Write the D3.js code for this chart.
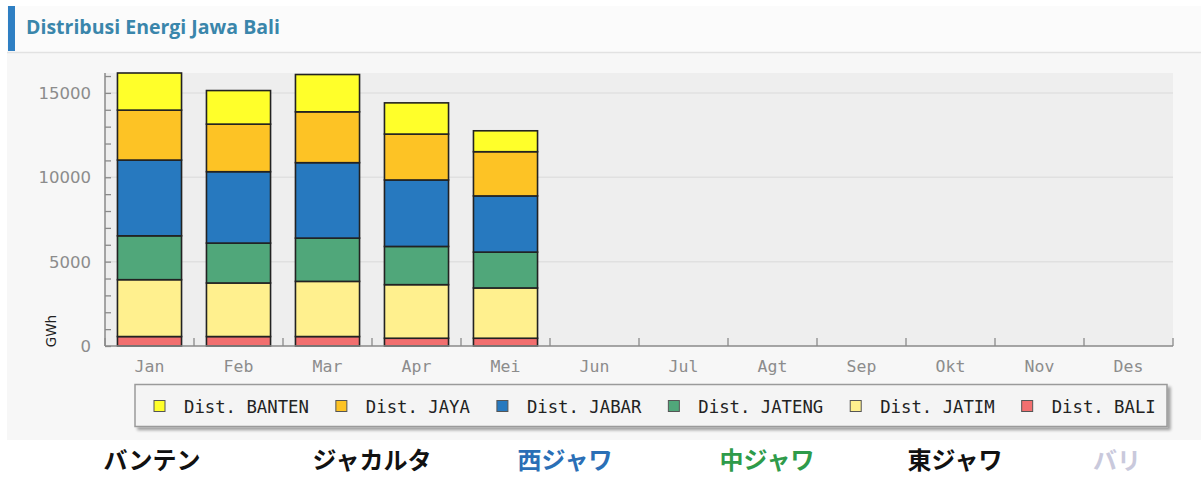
<!DOCTYPE html>
<html lang="id">
<head>
<meta charset="UTF-8">
<title>Distribusi Energi Jawa Bali</title>
<script src="https://cdnjs.cloudflare.com/ajax/libs/d3/7.8.5/d3.min.js"></script>
<style>
  html, body { margin: 0; padding: 0; background: #fff; }
  #chart { width: 1201px; height: 481px; }
</style>
</head>
<body>
<div id="chart"></div>
<script>
// months on the x axis (only Jan..Mei have data)
const months = ["Jan", "Feb", "Mar", "Apr", "Mei", "Jun", "Jul", "Agt", "Sep", "Okt", "Nov", "Des"];

// series, bottom to top of the stack (GWh)
const seriesNames = ["Dist. BALI", "Dist. JATIM", "Dist. JATENG", "Dist. JABAR", "Dist. JAYA", "Dist. BANTEN"];
const bali   = [560, 560, 560, 460, 460];
const jatim  = [3370, 3175, 3270, 3175, 2980];
const jateng = [2600, 2365, 2565, 2265, 2125];
const jabar  = [4490, 4230, 4470, 3940, 3330];
const jaya   = [2960, 2820, 3015, 2720, 2620];
const banten = [2200, 1990, 2210, 1850, 1240];

// legend order (as in the picture) and the Japanese captions under it
const legendOrder = ["Dist. BANTEN", "Dist. JAYA", "Dist. JABAR", "Dist. JATENG", "Dist. JATIM", "Dist. BALI"];
const jpLabels = ["バンテン", "ジャカルタ", "西ジャワ", "中ジャワ", "東ジャワ", "バリ"];

const yTicksMajor = [0, 5000, 10000, 15000];

// styling
const colors = {
  "Dist. BANTEN": "#ffff2a",
  "Dist. JAYA": "#fdc325",
  "Dist. JABAR": "#2779bf",
  "Dist. JATENG": "#50a77a",
  "Dist. JATIM": "#fff08e",
  "Dist. BALI": "#f26f6f"
};
const jpColors = ["#111", "#111", "#2a6fb6", "#2e9b4a", "#111", "#c9c9dc"];
const jpCenters = [152, 372, 565, 767, 955, 1117];

const W = 1201, H = 481;
const plot = {left: 105, right: 1173, top: 73, bottom: 346};

const svg = d3.select("#chart").append("svg")
  .attr("width", W).attr("height", H);

const defs = svg.append("defs");
const sh = defs.append("filter").attr("id", "shadow")
  .attr("x", "-5%").attr("y", "-30%").attr("width", "110%").attr("height", "160%");
sh.append("feGaussianBlur").attr("in", "SourceAlpha").attr("stdDeviation", 1.5);
sh.append("feOffset").attr("dx", 3).attr("dy", 3).attr("result", "b");
sh.append("feComponentTransfer").append("feFuncA").attr("type", "linear").attr("slope", 0.35);
const m = sh.append("feMerge");
m.append("feMergeNode");
m.append("feMergeNode").attr("in", "SourceGraphic");

// panel + header
svg.append("rect").attr("x", 7).attr("y", 6).attr("width", W - 7).attr("height", 434)
  .attr("fill", "#f7f7f7");
svg.append("rect").attr("x", 7).attr("y", 6).attr("width", W - 7).attr("height", 46)
  .attr("fill", "#fbfbfb");
svg.append("line").attr("x1", 7).attr("x2", W).attr("y1", 52.5).attr("y2", 52.5)
  .attr("stroke", "#e2e2e2").attr("stroke-width", 1.5);
svg.append("rect").attr("x", 8).attr("y", 6).attr("width", 7).attr("height", 45)
  .attr("fill", "#2f7fc3");
svg.append("text").attr("x", 26).attr("y", 34)
  .attr("font-family", "'Open Sans', sans-serif").attr("font-weight", 700)
  .attr("font-size", 19.5).attr("fill", "#3a86ab")
  .text("Distribusi Energi Jawa Bali");

// plot background
svg.append("rect").attr("x", plot.left).attr("y", plot.top)
  .attr("width", plot.right - plot.left).attr("height", plot.bottom - plot.top)
  .attr("fill", "#eeeeee");

// data -> stack
const rows = months.map((mo, i) => ({
  month: mo,
  "Dist. BALI": bali[i] || 0,
  "Dist. JATIM": jatim[i] || 0,
  "Dist. JATENG": jateng[i] || 0,
  "Dist. JABAR": jabar[i] || 0,
  "Dist. JAYA": jaya[i] || 0,
  "Dist. BANTEN": banten[i] || 0
}));
const stacked = d3.stack().keys(seriesNames)(rows);
const yMax = d3.max(stacked[stacked.length - 1], d => d[1]);

const x = d3.scaleBand().domain(months)
  .range([plot.left, plot.right]).paddingInner(0.28).paddingOuter(0.14);
const y = d3.scaleLinear().domain([0, yMax]).range([plot.bottom, plot.top]);

// grid lines
svg.append("g").selectAll("line")
  .data(yTicksMajor.filter(v => v > 0))
  .join("line")
  .attr("x1", plot.left).attr("x2", plot.right)
  .attr("y1", d => y(d)).attr("y2", d => y(d))
  .attr("stroke", "#e0e0e0").attr("stroke-width", 1.5);

// bars
svg.append("g").selectAll("g")
  .data(stacked)
  .join("g")
  .attr("fill", d => colors[d.key])
  .selectAll("rect")
  .data(d => d.filter(p => p[1] - p[0] > 0))
  .join("rect")
  .attr("x", d => x(d.data.month))
  .attr("width", x.bandwidth())
  .attr("y", d => y(d[1]))
  .attr("height", d => y(d[0]) - y(d[1]))
  .attr("stroke", "#222")
  .attr("stroke-width", 1.6);

// y axis (ticks point inward, every 1000)
const yAxis = d3.axisRight(y).tickValues(d3.range(0, yMax, 1000)).tickSize(6).tickFormat("");
const yg = svg.append("g").attr("transform", `translate(${plot.left},0)`).call(yAxis);
yg.select(".domain").remove();
yg.selectAll(".tick line").attr("stroke", "#8a8a8a").attr("stroke-width", 1.3);
svg.append("line").attr("x1", plot.left).attr("x2", plot.left)
  .attr("y1", plot.top).attr("y2", plot.bottom)
  .attr("stroke", "#8a8a8a").attr("stroke-width", 1.5);

svg.append("g").selectAll("text")
  .data(yTicksMajor)
  .join("text")
  .attr("x", 91).attr("y", d => y(d)).attr("dy", "0.36em")
  .attr("text-anchor", "end")
  .attr("font-family", "'DejaVu Sans', sans-serif").attr("font-size", 16.5)
  .attr("fill", "#8c8c8c")
  .text(d => d);

svg.append("text")
  .attr("transform", `translate(56,331) rotate(-90)`)
  .attr("text-anchor", "middle")
  .attr("font-family", "'DejaVu Sans', sans-serif").attr("font-size", 13.5)
  .attr("fill", "#222")
  .text("GWh");

// x axis (ticks at band edges, pointing up)
const edges = d3.range(months.length + 1).map(i => x.range()[0] + i * x.step());
svg.append("line").attr("x1", plot.left).attr("x2", plot.right)
  .attr("y1", plot.bottom).attr("y2", plot.bottom)
  .attr("stroke", "#8a8a8a").attr("stroke-width", 1.5);
svg.append("g").selectAll("line")
  .data(edges)
  .join("line")
  .attr("x1", d => d).attr("x2", d => d)
  .attr("y1", plot.bottom).attr("y2", plot.bottom - 8)
  .attr("stroke", "#8a8a8a").attr("stroke-width", 1.3);

svg.append("g").selectAll("text")
  .data(months)
  .join("text")
  .attr("x", d => x(d) + x.bandwidth() / 2).attr("y", 372)
  .attr("text-anchor", "middle")
  .attr("font-family", "'DejaVu Sans Mono', monospace").attr("font-size", 16.5)
  .attr("fill", "#8c8c8c")
  .text(d => d);

// legend
const lg = svg.append("g");
lg.append("rect").attr("x", 135).attr("y", 384.5).attr("width", 1032).attr("height", 42)
  .attr("fill", "#f4f4f4").attr("stroke", "#9a9a9a").attr("stroke-width", 1.5)
  .attr("filter", "url(#shadow)");
let tx = 184;
legendOrder.forEach(name => {
  lg.append("rect").attr("x", tx - 30).attr("y", 400.5).attr("width", 11).attr("height", 11)
    .attr("fill", colors[name]).attr("stroke", "#555").attr("stroke-width", 1);
  const t = lg.append("text").attr("x", tx).attr("y", 413)
    .attr("font-family", "'DejaVu Sans Mono', monospace").attr("font-size", 17.3)
    .attr("fill", "#222")
    .text(name);
  tx += t.node().getComputedTextLength() + 57;
});

// Japanese captions
svg.append("g").selectAll("text")
  .data(jpLabels)
  .join("text")
  .attr("x", (d, i) => jpCenters[i]).attr("y", 469)
  .attr("text-anchor", "middle")
  .attr("font-family", "'Noto Sans CJK JP', sans-serif").attr("font-weight", 700)
  .attr("font-size", 24)
  .attr("fill", (d, i) => jpColors[i])
  .text(d => d);
</script>
</body>
</html>
